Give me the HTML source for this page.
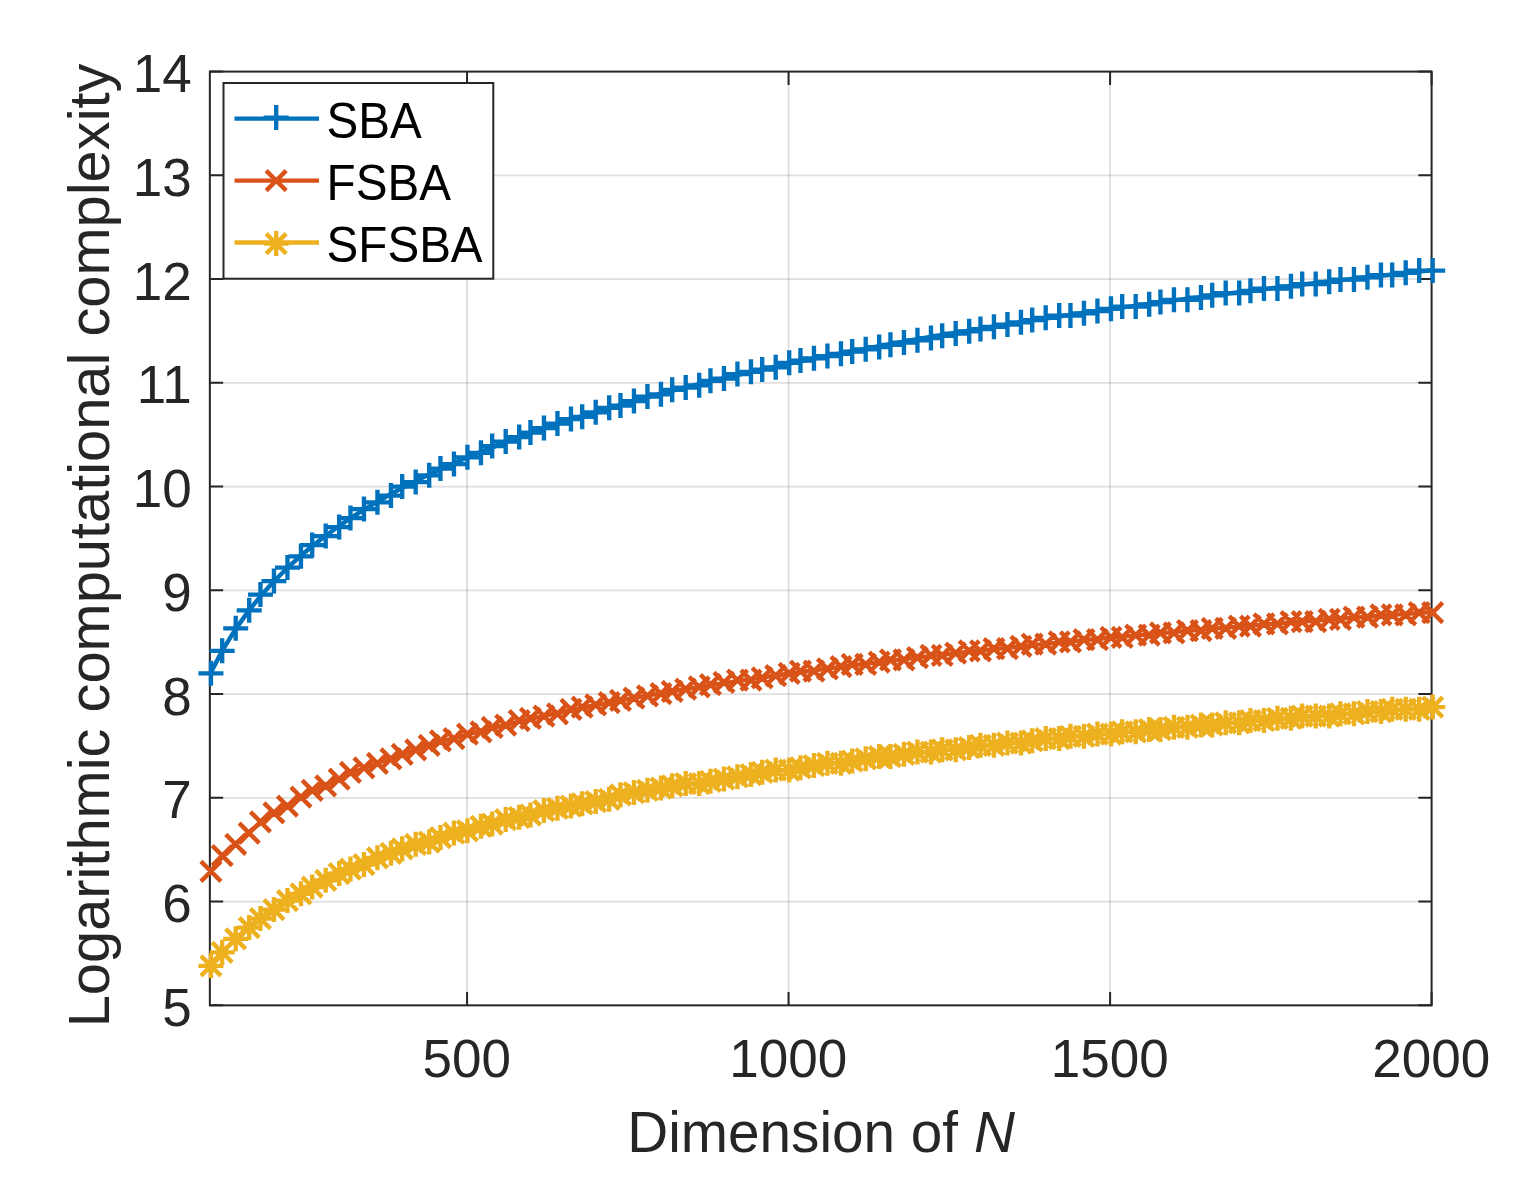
<!DOCTYPE html>
<html lang="en"><head><meta charset="utf-8"><title>Logarithmic computational complexity</title>
<style>html,body{margin:0;padding:0;background:#fff;}body{width:1518px;height:1200px;overflow:hidden;}svg{display:block;}text{font-family:"Liberation Sans",sans-serif;fill:#262626;}</style></head><body>
<svg width="1518" height="1200" viewBox="0 0 1518 1200">
<rect width="1518" height="1200" fill="#fff"/>
<g stroke="#262626" stroke-opacity="0.15" stroke-width="1.9" fill="none">
<path d="M467.06 71.6V1005.35"/>
<path d="M788.57 71.6V1005.35"/>
<path d="M1110.09 71.6V1005.35"/>
<path d="M209.85 901.6H1431.6"/>
<path d="M209.85 797.85H1431.6"/>
<path d="M209.85 694.1H1431.6"/>
<path d="M209.85 590.35H1431.6"/>
<path d="M209.85 486.6H1431.6"/>
<path d="M209.85 382.85H1431.6"/>
<path d="M209.85 279.1H1431.6"/>
<path d="M209.85 175.35H1431.6"/>
</g>
<g stroke="#262626" stroke-width="2" fill="none">
<rect x="209.85" y="71.6" width="1221.75" height="933.75"/>
<path d="M467.06 1005.35v-13.3M467.06 71.6v13.3M788.57 1005.35v-13.3M788.57 71.6v13.3M1110.09 1005.35v-13.3M1110.09 71.6v13.3M1431.6 1005.35v-13.3M1431.6 71.6v13.3M209.85 1005.35h13.3M1431.6 1005.35h-13.3M209.85 901.6h13.3M1431.6 901.6h-13.3M209.85 797.85h13.3M1431.6 797.85h-13.3M209.85 694.1h13.3M1431.6 694.1h-13.3M209.85 590.35h13.3M1431.6 590.35h-13.3M209.85 486.6h13.3M1431.6 486.6h-13.3M209.85 382.85h13.3M1431.6 382.85h-13.3M209.85 279.1h13.3M1431.6 279.1h-13.3M209.85 175.35h13.3M1431.6 175.35h-13.3M209.85 71.6h13.3M1431.6 71.6h-13.3"/>
</g>
<g font-size="53" text-anchor="middle">
<text transform="translate(466.66 1077.4) scale(1 1.02)">500</text>
<text transform="translate(788.17 1077.4) scale(1 1.02)">1000</text>
<text transform="translate(1109.69 1077.4) scale(1 1.02)">1500</text>
<text transform="translate(1431.2 1077.4) scale(1 1.02)">2000</text>
</g>
<g font-size="53" text-anchor="end">
<text transform="translate(191.7 1025.95) scale(1 1.02)">5</text>
<text transform="translate(191.7 922.2) scale(1 1.02)">6</text>
<text transform="translate(191.7 818.45) scale(1 1.02)">7</text>
<text transform="translate(191.7 714.7) scale(1 1.02)">8</text>
<text transform="translate(191.7 610.95) scale(1 1.02)">9</text>
<text transform="translate(191.7 507.2) scale(1 1.02)">10</text>
<text transform="translate(191.7 403.45) scale(1 1.02)">11</text>
<text transform="translate(191.7 299.7) scale(1 1.02)">12</text>
<text transform="translate(191.7 195.95) scale(1 1.02)">13</text>
<text transform="translate(191.7 92.2) scale(1 1.02)">14</text>
</g>
<text x="627.3" y="1152" font-size="56.7">Dimension of <tspan font-style="italic">N</tspan></text>
<text transform="translate(108.7 1027.3) rotate(-90)" font-size="57.8">Logarithmic computational complexity</text>
<g stroke="#0072BD" fill="none" stroke-linejoin="round">
<polyline stroke-width="4.4" points="209.85,674.39 222.71,649.88 235.57,629.13 248.43,611.15 261.29,595.29 274.15,581.09 287.01,568.24 299.87,556.51 312.73,545.72 325.59,535.72 338.45,526.42 351.31,517.71 364.17,509.53 377.03,501.82 389.89,494.53 402.76,487.6 415.62,481.02 428.48,474.74 441.34,468.74 454.2,463 467.06,457.49 479.92,452.19 492.78,447.1 505.64,442.19 518.5,437.45 531.36,432.87 544.22,428.45 557.08,424.16 569.94,420.01 582.8,415.97 595.66,412.06 608.52,408.26 621.38,404.56 634.24,400.96 647.11,397.45 659.97,394.03 672.83,390.69 685.69,387.44 698.55,384.26 711.41,381.16 724.27,378.12 737.13,375.15 749.99,372.25 762.85,369.41 775.71,366.62 788.57,363.89 801.43,361.22 814.29,358.6 827.15,356.02 840.01,353.5 852.87,351.02 865.73,348.59 878.59,346.2 891.46,343.85 904.32,341.54 917.18,339.27 930.04,337.04 942.9,334.84 955.76,332.68 968.62,330.55 981.48,328.46 994.34,326.39 1007.2,324.36 1020.06,322.36 1032.92,320.39 1045.78,318.45 1058.64,316.53 1071.5,314.64 1084.36,312.78 1097.22,310.94 1110.08,309.13 1122.94,307.34 1135.81,305.57 1148.67,303.83 1161.53,302.11 1174.39,300.41 1187.25,298.73 1200.11,297.07 1212.97,295.44 1225.83,293.82 1238.69,292.22 1251.55,290.64 1264.41,289.08 1277.27,287.53 1290.13,286.01 1302.99,284.5 1315.85,283 1328.71,281.53 1341.57,280.07 1354.43,278.62 1367.29,277.19 1380.16,275.78 1393.02,274.38 1405.88,272.99 1418.74,271.62 1431.6,270.26"/>
<path stroke-width="4.35" d="M198.45 673.35H223.45M210.95 660.85V685.85M209.7 650.85H234.7M222.2 638.35V663.35M223.2 628.35H248.2M235.7 615.85V640.85M236.7 610.35H261.7M249.2 597.85V622.85M247.95 594.6H272.95M260.45 582.1V607.1M261.45 581.1H286.45M273.95 568.6V593.6M274.95 567.6H299.95M287.45 555.1V580.1M288.45 556.35H313.45M300.95 543.85V568.85M299.7 545.1H324.7M312.2 532.6V557.6M313.2 536.1H338.2M325.7 523.6V548.6M326.7 527.1H351.7M339.2 514.6V539.6M337.95 518.1H362.95M350.45 505.6V530.6M351.45 509.1H376.45M363.95 496.6V521.6M364.95 502.35H389.95M377.45 489.85V514.85M378.45 495.6H403.45M390.95 483.1V508.1M389.7 486.6H414.7M402.2 474.1V499.1M403.2 482.1H428.2M415.7 469.6V494.6M416.7 475.35H441.7M429.2 462.85V487.85M427.95 468.6H452.95M440.45 456.1V481.1M441.45 464.1H466.45M453.95 451.6V476.6M454.95 457.35H479.95M467.45 444.85V469.85M468.45 452.85H493.45M480.95 440.35V465.35M479.7 446.1H504.7M492.2 433.6V458.6M493.2 441.6H518.2M505.7 429.1V454.1M506.7 437.1H531.7M519.2 424.6V449.6M517.95 432.6H542.95M530.45 420.1V445.1M531.45 428.1H556.45M543.95 415.6V440.6M544.95 423.6H569.95M557.45 411.1V436.1M558.45 419.1H583.45M570.95 406.6V431.6M569.7 416.85H594.7M582.2 404.35V429.35M583.2 412.35H608.2M595.7 399.85V424.85M596.7 407.85H621.7M609.2 395.35V420.35M607.95 405.6H632.95M620.45 393.1V418.1M621.45 401.1H646.45M633.95 388.6V413.6M634.95 396.6H659.95M647.45 384.1V409.1M648.45 394.35H673.45M660.95 381.85V406.85M659.7 389.85H684.7M672.2 377.35V402.35M673.2 387.6H698.2M685.7 375.1V400.1M686.7 385.35H711.7M699.2 372.85V397.85M697.95 380.85H722.95M710.45 368.35V393.35M711.45 378.6H736.45M723.95 366.1V391.1M724.95 374.1H749.95M737.45 361.6V386.6M738.45 371.85H763.45M750.95 359.35V384.35M749.7 369.6H774.7M762.2 357.1V382.1M763.2 367.35H788.2M775.7 354.85V379.85M776.7 362.85H801.7M789.2 350.35V375.35M787.95 360.6H812.95M800.45 348.1V373.1M801.45 358.35H826.45M813.95 345.85V370.85M814.95 356.1H839.95M827.45 343.6V368.6M828.45 353.85H853.45M840.95 341.35V366.35M839.7 351.6H864.7M852.2 339.1V364.1M853.2 349.35H878.2M865.7 336.85V361.85M866.7 347.1H891.7M879.2 334.6V359.6M877.95 344.85H902.95M890.45 332.35V357.35M891.45 342.6H916.45M903.95 330.1V355.1M904.95 340.35H929.95M917.45 327.85V352.85M918.45 338.1H943.45M930.95 325.6V350.6M929.7 335.85H954.7M942.2 323.35V348.35M943.2 333.6H968.2M955.7 321.1V346.1M956.7 331.35H981.7M969.2 318.85V343.85M967.95 329.1H992.95M980.45 316.6V341.6M981.45 326.85H1006.45M993.95 314.35V339.35M994.95 324.6H1019.95M1007.45 312.1V337.1M1008.45 322.35H1033.45M1020.95 309.85V334.85M1019.7 320.1H1044.7M1032.2 307.6V332.6M1033.2 317.85H1058.2M1045.7 305.35V330.35M1046.7 315.6H1071.7M1059.2 303.1V328.1M1057.95 315.6H1082.95M1070.45 303.1V328.1M1071.45 313.35H1096.45M1083.95 300.85V325.85M1084.95 311.1H1109.95M1097.45 298.6V323.6M1098.45 308.85H1123.45M1110.95 296.35V321.35M1109.7 306.6H1134.7M1122.2 294.1V319.1M1123.2 306.6H1148.2M1135.7 294.1V319.1M1136.7 304.35H1161.7M1149.2 291.85V316.85M1147.95 302.1H1172.95M1160.45 289.6V314.6M1161.45 299.85H1186.45M1173.95 287.35V312.35M1174.95 299.85H1199.95M1187.45 287.35V312.35M1188.45 297.6H1213.45M1200.95 285.1V310.1M1199.7 295.35H1224.7M1212.2 282.85V307.85M1213.2 293.1H1238.2M1225.7 280.6V305.6M1226.7 293.1H1251.7M1239.2 280.6V305.6M1237.95 290.85H1262.95M1250.45 278.35V303.35M1251.45 288.6H1276.45M1263.95 276.1V301.1M1264.95 288.6H1289.95M1277.45 276.1V301.1M1278.45 286.35H1303.45M1290.95 273.85V298.85M1289.7 284.1H1314.7M1302.2 271.6V296.6M1303.2 284.1H1328.2M1315.7 271.6V296.6M1316.7 281.85H1341.7M1329.2 269.35V294.35M1327.95 279.6H1352.95M1340.45 267.1V292.1M1341.45 279.6H1366.45M1353.95 267.1V292.1M1354.95 277.35H1379.95M1367.45 264.85V289.85M1368.45 275.1H1393.45M1380.95 262.6V287.6M1379.7 275.1H1404.7M1392.2 262.6V287.6M1393.2 272.85H1418.2M1405.7 260.35V285.35M1406.7 270.6H1431.7M1419.2 258.1V283.1M1420.2 270.6H1445.2M1432.7 258.1V283.1"/>
</g>
<g stroke="#D95319" fill="none" stroke-linejoin="round">
<polyline stroke-width="4.4" points="209.85,872.11 222.71,856.66 235.57,843.65 248.43,832.37 261.29,822.41 274.15,813.48 287.01,805.38 299.87,797.97 312.73,791.13 325.59,784.79 338.45,778.87 351.31,773.32 364.17,768.1 377.03,763.16 389.89,758.49 402.76,754.05 415.62,749.82 428.48,745.78 441.34,741.91 454.2,738.21 467.06,734.65 479.92,731.23 492.78,727.94 505.64,724.76 518.5,721.69 531.36,718.72 544.22,715.85 557.08,713.06 569.94,710.36 582.8,707.74 595.66,705.2 608.52,702.72 621.38,700.31 634.24,697.96 647.11,695.67 659.97,693.44 672.83,691.27 685.69,689.14 698.55,687.07 711.41,685.04 724.27,683.05 737.13,681.11 749.99,679.21 762.85,677.35 775.71,675.53 788.57,673.74 801.43,671.99 814.29,670.27 827.15,668.58 840.01,666.93 852.87,665.3 865.73,663.7 878.59,662.14 891.46,660.59 904.32,659.08 917.18,657.59 930.04,656.12 942.9,654.68 955.76,653.26 968.62,651.86 981.48,650.48 994.34,649.12 1007.2,647.79 1020.06,646.47 1032.92,645.17 1045.78,643.9 1058.64,642.63 1071.5,641.39 1084.36,640.16 1097.22,638.95 1110.08,637.76 1122.94,636.58 1135.81,635.42 1148.67,634.27 1161.53,633.14 1174.39,632.02 1187.25,630.91 1200.11,629.82 1212.97,628.74 1225.83,627.67 1238.69,626.62 1251.55,625.57 1264.41,624.54 1277.27,623.52 1290.13,622.52 1302.99,621.52 1315.85,620.54 1328.71,619.56 1341.57,618.6 1354.43,617.64 1367.29,616.7 1380.16,615.77 1393.02,614.84 1405.88,613.93 1418.74,613.02 1431.6,612.12"/>
<path stroke-width="4.35" d="M200.95 861.35L220.95 881.35M200.95 881.35L220.95 861.35M212.2 845.6L232.2 865.6M212.2 865.6L232.2 845.6M225.7 834.35L245.7 854.35M225.7 854.35L245.7 834.35M239.2 823.1L259.2 843.1M239.2 843.1L259.2 823.1M250.45 811.85L270.45 831.85M250.45 831.85L270.45 811.85M263.95 802.85L283.95 822.85M263.95 822.85L283.95 802.85M277.45 796.1L297.45 816.1M277.45 816.1L297.45 796.1M290.95 787.1L310.95 807.1M290.95 807.1L310.95 787.1M302.2 780.35L322.2 800.35M302.2 800.35L322.2 780.35M315.7 775.85L335.7 795.85M315.7 795.85L335.7 775.85M329.2 769.1L349.2 789.1M329.2 789.1L349.2 769.1M340.45 762.35L360.45 782.35M340.45 782.35L360.45 762.35M353.95 757.85L373.95 777.85M353.95 777.85L373.95 757.85M367.45 753.35L387.45 773.35M367.45 773.35L387.45 753.35M380.95 748.85L400.95 768.85M380.95 768.85L400.95 748.85M392.2 744.35L412.2 764.35M392.2 764.35L412.2 744.35M405.7 739.85L425.7 759.85M405.7 759.85L425.7 739.85M419.2 735.35L439.2 755.35M419.2 755.35L439.2 735.35M430.45 730.85L450.45 750.85M430.45 750.85L450.45 730.85M443.95 728.6L463.95 748.6M443.95 748.6L463.95 728.6M457.45 724.1L477.45 744.1M457.45 744.1L477.45 724.1M470.95 721.85L490.95 741.85M470.95 741.85L490.95 721.85M482.2 717.35L502.2 737.35M482.2 737.35L502.2 717.35M495.7 715.1L515.7 735.1M495.7 735.1L515.7 715.1M509.2 710.6L529.2 730.6M509.2 730.6L529.2 710.6M520.45 708.35L540.45 728.35M520.45 728.35L540.45 708.35M533.95 706.1L553.95 726.1M533.95 726.1L553.95 706.1M547.45 703.85L567.45 723.85M547.45 723.85L567.45 703.85M560.95 699.35L580.95 719.35M560.95 719.35L580.95 699.35M572.2 697.1L592.2 717.1M572.2 717.1L592.2 697.1M585.7 694.85L605.7 714.85M585.7 714.85L605.7 694.85M599.2 692.6L619.2 712.6M599.2 712.6L619.2 692.6M610.45 690.35L630.45 710.35M610.45 710.35L630.45 690.35M623.95 688.1L643.95 708.1M623.95 708.1L643.95 688.1M637.45 685.85L657.45 705.85M637.45 705.85L657.45 685.85M650.95 683.6L670.95 703.6M650.95 703.6L670.95 683.6M662.2 681.35L682.2 701.35M662.2 701.35L682.2 681.35M675.7 679.1L695.7 699.1M675.7 699.1L695.7 679.1M689.2 676.85L709.2 696.85M689.2 696.85L709.2 676.85M700.45 674.6L720.45 694.6M700.45 694.6L720.45 674.6M713.95 672.35L733.95 692.35M713.95 692.35L733.95 672.35M727.45 670.1L747.45 690.1M727.45 690.1L747.45 670.1M740.95 670.1L760.95 690.1M740.95 690.1L760.95 670.1M752.2 667.85L772.2 687.85M752.2 687.85L772.2 667.85M765.7 665.6L785.7 685.6M765.7 685.6L785.7 665.6M779.2 663.35L799.2 683.35M779.2 683.35L799.2 663.35M790.45 661.1L810.45 681.1M790.45 681.1L810.45 661.1M803.95 661.1L823.95 681.1M803.95 681.1L823.95 661.1M817.45 658.85L837.45 678.85M817.45 678.85L837.45 658.85M830.95 656.6L850.95 676.6M830.95 676.6L850.95 656.6M842.2 654.35L862.2 674.35M842.2 674.35L862.2 654.35M855.7 654.35L875.7 674.35M855.7 674.35L875.7 654.35M869.2 652.1L889.2 672.1M869.2 672.1L889.2 652.1M880.45 649.85L900.45 669.85M880.45 669.85L900.45 649.85M893.95 649.85L913.95 669.85M893.95 669.85L913.95 649.85M907.45 647.6L927.45 667.6M907.45 667.6L927.45 647.6M920.95 645.35L940.95 665.35M920.95 665.35L940.95 645.35M932.2 645.35L952.2 665.35M932.2 665.35L952.2 645.35M945.7 643.1L965.7 663.1M945.7 663.1L965.7 643.1M959.2 640.85L979.2 660.85M959.2 660.85L979.2 640.85M970.45 640.85L990.45 660.85M970.45 660.85L990.45 640.85M983.95 638.6L1003.95 658.6M983.95 658.6L1003.95 638.6M997.45 638.6L1017.45 658.6M997.45 658.6L1017.45 638.6M1010.95 636.35L1030.95 656.35M1010.95 656.35L1030.95 636.35M1022.2 634.1L1042.2 654.1M1022.2 654.1L1042.2 634.1M1035.7 634.1L1055.7 654.1M1035.7 654.1L1055.7 634.1M1049.2 631.85L1069.2 651.85M1049.2 651.85L1069.2 631.85M1060.45 631.85L1080.45 651.85M1060.45 651.85L1080.45 631.85M1073.95 629.6L1093.95 649.6M1073.95 649.6L1093.95 629.6M1087.45 629.6L1107.45 649.6M1087.45 649.6L1107.45 629.6M1100.95 627.35L1120.95 647.35M1100.95 647.35L1120.95 627.35M1112.2 627.35L1132.2 647.35M1112.2 647.35L1132.2 627.35M1125.7 625.1L1145.7 645.1M1125.7 645.1L1145.7 625.1M1139.2 625.1L1159.2 645.1M1139.2 645.1L1159.2 625.1M1150.45 622.85L1170.45 642.85M1150.45 642.85L1170.45 622.85M1163.95 622.85L1183.95 642.85M1163.95 642.85L1183.95 622.85M1177.45 620.6L1197.45 640.6M1177.45 640.6L1197.45 620.6M1190.95 620.6L1210.95 640.6M1190.95 640.6L1210.95 620.6M1202.2 618.35L1222.2 638.35M1202.2 638.35L1222.2 618.35M1215.7 618.35L1235.7 638.35M1215.7 638.35L1235.7 618.35M1229.2 616.1L1249.2 636.1M1229.2 636.1L1249.2 616.1M1240.45 616.1L1260.45 636.1M1240.45 636.1L1260.45 616.1M1253.95 613.85L1273.95 633.85M1253.95 633.85L1273.95 613.85M1267.45 613.85L1287.45 633.85M1267.45 633.85L1287.45 613.85M1280.95 611.6L1300.95 631.6M1280.95 631.6L1300.95 611.6M1292.2 611.6L1312.2 631.6M1292.2 631.6L1312.2 611.6M1305.7 611.6L1325.7 631.6M1305.7 631.6L1325.7 611.6M1319.2 609.35L1339.2 629.35M1319.2 629.35L1339.2 609.35M1330.45 609.35L1350.45 629.35M1330.45 629.35L1350.45 609.35M1343.95 607.1L1363.95 627.1M1343.95 627.1L1363.95 607.1M1357.45 607.1L1377.45 627.1M1357.45 627.1L1377.45 607.1M1370.95 604.85L1390.95 624.85M1370.95 624.85L1390.95 604.85M1382.2 604.85L1402.2 624.85M1382.2 624.85L1402.2 604.85M1395.7 604.85L1415.7 624.85M1395.7 624.85L1415.7 604.85M1409.2 602.6L1429.2 622.6M1409.2 622.6L1429.2 602.6M1422.7 602.6L1442.7 622.6M1422.7 622.6L1442.7 602.6"/>
</g>
<g stroke="#EDB120" fill="none" stroke-linejoin="round">
<polyline stroke-width="4.4" points="209.85,966.89 222.71,951.81 235.57,939 248.43,927.85 261.29,917.96 274.15,909.08 287.01,901.01 299.87,893.61 312.73,886.78 325.59,880.45 338.45,874.53 351.31,868.98 364.17,863.76 377.03,858.82 389.89,854.14 402.76,849.7 415.62,845.47 428.48,841.42 441.34,837.55 454.2,833.84 467.06,830.28 479.92,826.86 492.78,823.56 505.64,820.38 518.5,817.3 531.36,814.33 544.22,811.45 557.08,808.67 569.94,805.96 582.8,803.34 595.66,800.79 608.52,798.31 621.38,795.89 634.24,793.54 647.11,791.25 659.97,789.02 672.83,786.84 685.69,784.71 698.55,782.63 711.41,780.6 724.27,778.61 737.13,776.67 749.99,774.77 762.85,772.9 775.71,771.08 788.57,769.29 801.43,767.54 814.29,765.81 827.15,764.13 840.01,762.47 852.87,760.84 865.73,759.24 878.59,757.67 891.46,756.13 904.32,754.61 917.18,753.12 930.04,751.65 942.9,750.2 955.76,748.78 968.62,747.38 981.48,746 994.34,744.65 1007.2,743.31 1020.06,741.99 1032.92,740.69 1045.78,739.41 1058.64,738.15 1071.5,736.91 1084.36,735.68 1097.22,734.47 1110.08,733.27 1122.94,732.09 1135.81,730.93 1148.67,729.78 1161.53,728.64 1174.39,727.52 1187.25,726.41 1200.11,725.32 1212.97,724.24 1225.83,723.17 1238.69,722.12 1251.55,721.07 1264.41,720.04 1277.27,719.02 1290.13,718.01 1302.99,717.02 1315.85,716.03 1328.71,715.06 1341.57,714.09 1354.43,713.14 1367.29,712.19 1380.16,711.26 1393.02,710.33 1405.88,709.42 1418.74,708.51 1431.6,707.61"/>
<path stroke-width="4.35" d="M198.45 965.85H223.45M210.95 953.35V978.35M200.95 955.85L220.95 975.85M200.95 975.85L220.95 955.85M209.7 952.35H234.7M222.2 939.85V964.85M212.2 942.35L232.2 962.35M212.2 962.35L232.2 942.35M223.2 938.85H248.2M235.7 926.35V951.35M225.7 928.85L245.7 948.85M225.7 948.85L245.7 928.85M236.7 927.6H261.7M249.2 915.1V940.1M239.2 917.6L259.2 937.6M239.2 937.6L259.2 917.6M247.95 918.6H272.95M260.45 906.1V931.1M250.45 908.6L270.45 928.6M250.45 928.6L270.45 908.6M261.45 909.6H286.45M273.95 897.1V922.1M263.95 899.6L283.95 919.6M263.95 919.6L283.95 899.6M274.95 900.6H299.95M287.45 888.1V913.1M277.45 890.6L297.45 910.6M277.45 910.6L297.45 890.6M288.45 893.85H313.45M300.95 881.35V906.35M290.95 883.85L310.95 903.85M290.95 903.85L310.95 883.85M299.7 887.1H324.7M312.2 874.6V899.6M302.2 877.1L322.2 897.1M302.2 897.1L322.2 877.1M313.2 880.35H338.2M325.7 867.85V892.85M315.7 870.35L335.7 890.35M315.7 890.35L335.7 870.35M326.7 873.6H351.7M339.2 861.1V886.1M329.2 863.6L349.2 883.6M329.2 883.6L349.2 863.6M337.95 869.1H362.95M350.45 856.6V881.6M340.45 859.1L360.45 879.1M340.45 879.1L360.45 859.1M351.45 864.6H376.45M363.95 852.1V877.1M353.95 854.6L373.95 874.6M353.95 874.6L373.95 854.6M364.95 857.85H389.95M377.45 845.35V870.35M367.45 847.85L387.45 867.85M367.45 867.85L387.45 847.85M378.45 853.35H403.45M390.95 840.85V865.85M380.95 843.35L400.95 863.35M380.95 863.35L400.95 843.35M389.7 848.85H414.7M402.2 836.35V861.35M392.2 838.85L412.2 858.85M392.2 858.85L412.2 838.85M403.2 844.35H428.2M415.7 831.85V856.85M405.7 834.35L425.7 854.35M405.7 854.35L425.7 834.35M416.7 842.1H441.7M429.2 829.6V854.6M419.2 832.1L439.2 852.1M419.2 852.1L439.2 832.1M427.95 837.6H452.95M440.45 825.1V850.1M430.45 827.6L450.45 847.6M430.45 847.6L450.45 827.6M441.45 833.1H466.45M453.95 820.6V845.6M443.95 823.1L463.95 843.1M443.95 843.1L463.95 823.1M454.95 830.85H479.95M467.45 818.35V843.35M457.45 820.85L477.45 840.85M457.45 840.85L477.45 820.85M468.45 826.35H493.45M480.95 813.85V838.85M470.95 816.35L490.95 836.35M470.95 836.35L490.95 816.35M479.7 824.1H504.7M492.2 811.6V836.6M482.2 814.1L502.2 834.1M482.2 834.1L502.2 814.1M493.2 819.6H518.2M505.7 807.1V832.1M495.7 809.6L515.7 829.6M495.7 829.6L515.7 809.6M506.7 817.35H531.7M519.2 804.85V829.85M509.2 807.35L529.2 827.35M509.2 827.35L529.2 807.35M517.95 815.1H542.95M530.45 802.6V827.6M520.45 805.1L540.45 825.1M520.45 825.1L540.45 805.1M531.45 810.6H556.45M543.95 798.1V823.1M533.95 800.6L553.95 820.6M533.95 820.6L553.95 800.6M544.95 808.35H569.95M557.45 795.85V820.85M547.45 798.35L567.45 818.35M547.45 818.35L567.45 798.35M558.45 806.1H583.45M570.95 793.6V818.6M560.95 796.1L580.95 816.1M560.95 816.1L580.95 796.1M569.7 803.85H594.7M582.2 791.35V816.35M572.2 793.85L592.2 813.85M572.2 813.85L592.2 793.85M583.2 801.6H608.2M595.7 789.1V814.1M585.7 791.6L605.7 811.6M585.7 811.6L605.7 791.6M596.7 799.35H621.7M609.2 786.85V811.85M599.2 789.35L619.2 809.35M599.2 809.35L619.2 789.35M607.95 794.85H632.95M620.45 782.35V807.35M610.45 784.85L630.45 804.85M610.45 804.85L630.45 784.85M621.45 792.6H646.45M633.95 780.1V805.1M623.95 782.6L643.95 802.6M623.95 802.6L643.95 782.6M634.95 790.35H659.95M647.45 777.85V802.85M637.45 780.35L657.45 800.35M637.45 800.35L657.45 780.35M648.45 788.1H673.45M660.95 775.6V800.6M650.95 778.1L670.95 798.1M650.95 798.1L670.95 778.1M659.7 785.85H684.7M672.2 773.35V798.35M662.2 775.85L682.2 795.85M662.2 795.85L682.2 775.85M673.2 783.6H698.2M685.7 771.1V796.1M675.7 773.6L695.7 793.6M675.7 793.6L695.7 773.6M686.7 783.6H711.7M699.2 771.1V796.1M689.2 773.6L709.2 793.6M689.2 793.6L709.2 773.6M697.95 781.35H722.95M710.45 768.85V793.85M700.45 771.35L720.45 791.35M700.45 791.35L720.45 771.35M711.45 779.1H736.45M723.95 766.6V791.6M713.95 769.1L733.95 789.1M713.95 789.1L733.95 769.1M724.95 776.85H749.95M737.45 764.35V789.35M727.45 766.85L747.45 786.85M727.45 786.85L747.45 766.85M738.45 774.6H763.45M750.95 762.1V787.1M740.95 764.6L760.95 784.6M740.95 784.6L760.95 764.6M749.7 772.35H774.7M762.2 759.85V784.85M752.2 762.35L772.2 782.35M752.2 782.35L772.2 762.35M763.2 770.1H788.2M775.7 757.6V782.6M765.7 760.1L785.7 780.1M765.7 780.1L785.7 760.1M776.7 770.1H801.7M789.2 757.6V782.6M779.2 760.1L799.2 780.1M779.2 780.1L799.2 760.1M787.95 767.85H812.95M800.45 755.35V780.35M790.45 757.85L810.45 777.85M790.45 777.85L810.45 757.85M801.45 765.6H826.45M813.95 753.1V778.1M803.95 755.6L823.95 775.6M803.95 775.6L823.95 755.6M814.95 763.35H839.95M827.45 750.85V775.85M817.45 753.35L837.45 773.35M817.45 773.35L837.45 753.35M828.45 763.35H853.45M840.95 750.85V775.85M830.95 753.35L850.95 773.35M830.95 773.35L850.95 753.35M839.7 761.1H864.7M852.2 748.6V773.6M842.2 751.1L862.2 771.1M842.2 771.1L862.2 751.1M853.2 758.85H878.2M865.7 746.35V771.35M855.7 748.85L875.7 768.85M855.7 768.85L875.7 748.85M866.7 756.6H891.7M879.2 744.1V769.1M869.2 746.6L889.2 766.6M869.2 766.6L889.2 746.6M877.95 756.6H902.95M890.45 744.1V769.1M880.45 746.6L900.45 766.6M880.45 766.6L900.45 746.6M891.45 754.35H916.45M903.95 741.85V766.85M893.95 744.35L913.95 764.35M893.95 764.35L913.95 744.35M904.95 752.1H929.95M917.45 739.6V764.6M907.45 742.1L927.45 762.1M907.45 762.1L927.45 742.1M918.45 752.1H943.45M930.95 739.6V764.6M920.95 742.1L940.95 762.1M920.95 762.1L940.95 742.1M929.7 749.85H954.7M942.2 737.35V762.35M932.2 739.85L952.2 759.85M932.2 759.85L952.2 739.85M943.2 749.85H968.2M955.7 737.35V762.35M945.7 739.85L965.7 759.85M945.7 759.85L965.7 739.85M956.7 747.6H981.7M969.2 735.1V760.1M959.2 737.6L979.2 757.6M959.2 757.6L979.2 737.6M967.95 745.35H992.95M980.45 732.85V757.85M970.45 735.35L990.45 755.35M970.45 755.35L990.45 735.35M981.45 745.35H1006.45M993.95 732.85V757.85M983.95 735.35L1003.95 755.35M983.95 755.35L1003.95 735.35M994.95 743.1H1019.95M1007.45 730.6V755.6M997.45 733.1L1017.45 753.1M997.45 753.1L1017.45 733.1M1008.45 743.1H1033.45M1020.95 730.6V755.6M1010.95 733.1L1030.95 753.1M1010.95 753.1L1030.95 733.1M1019.7 740.85H1044.7M1032.2 728.35V753.35M1022.2 730.85L1042.2 750.85M1022.2 750.85L1042.2 730.85M1033.2 738.6H1058.2M1045.7 726.1V751.1M1035.7 728.6L1055.7 748.6M1035.7 748.6L1055.7 728.6M1046.7 738.6H1071.7M1059.2 726.1V751.1M1049.2 728.6L1069.2 748.6M1049.2 748.6L1069.2 728.6M1057.95 736.35H1082.95M1070.45 723.85V748.85M1060.45 726.35L1080.45 746.35M1060.45 746.35L1080.45 726.35M1071.45 736.35H1096.45M1083.95 723.85V748.85M1073.95 726.35L1093.95 746.35M1073.95 746.35L1093.95 726.35M1084.95 734.1H1109.95M1097.45 721.6V746.6M1087.45 724.1L1107.45 744.1M1087.45 744.1L1107.45 724.1M1098.45 734.1H1123.45M1110.95 721.6V746.6M1100.95 724.1L1120.95 744.1M1100.95 744.1L1120.95 724.1M1109.7 731.85H1134.7M1122.2 719.35V744.35M1112.2 721.85L1132.2 741.85M1112.2 741.85L1132.2 721.85M1123.2 731.85H1148.2M1135.7 719.35V744.35M1125.7 721.85L1145.7 741.85M1125.7 741.85L1145.7 721.85M1136.7 729.6H1161.7M1149.2 717.1V742.1M1139.2 719.6L1159.2 739.6M1139.2 739.6L1159.2 719.6M1147.95 729.6H1172.95M1160.45 717.1V742.1M1150.45 719.6L1170.45 739.6M1150.45 739.6L1170.45 719.6M1161.45 727.35H1186.45M1173.95 714.85V739.85M1163.95 717.35L1183.95 737.35M1163.95 737.35L1183.95 717.35M1174.95 727.35H1199.95M1187.45 714.85V739.85M1177.45 717.35L1197.45 737.35M1177.45 737.35L1197.45 717.35M1188.45 725.1H1213.45M1200.95 712.6V737.6M1190.95 715.1L1210.95 735.1M1190.95 735.1L1210.95 715.1M1199.7 725.1H1224.7M1212.2 712.6V737.6M1202.2 715.1L1222.2 735.1M1202.2 735.1L1222.2 715.1M1213.2 722.85H1238.2M1225.7 710.35V735.35M1215.7 712.85L1235.7 732.85M1215.7 732.85L1235.7 712.85M1226.7 722.85H1251.7M1239.2 710.35V735.35M1229.2 712.85L1249.2 732.85M1229.2 732.85L1249.2 712.85M1237.95 720.6H1262.95M1250.45 708.1V733.1M1240.45 710.6L1260.45 730.6M1240.45 730.6L1260.45 710.6M1251.45 720.6H1276.45M1263.95 708.1V733.1M1253.95 710.6L1273.95 730.6M1253.95 730.6L1273.95 710.6M1264.95 718.35H1289.95M1277.45 705.85V730.85M1267.45 708.35L1287.45 728.35M1267.45 728.35L1287.45 708.35M1278.45 718.35H1303.45M1290.95 705.85V730.85M1280.95 708.35L1300.95 728.35M1280.95 728.35L1300.95 708.35M1289.7 716.1H1314.7M1302.2 703.6V728.6M1292.2 706.1L1312.2 726.1M1292.2 726.1L1312.2 706.1M1303.2 716.1H1328.2M1315.7 703.6V728.6M1305.7 706.1L1325.7 726.1M1305.7 726.1L1325.7 706.1M1316.7 716.1H1341.7M1329.2 703.6V728.6M1319.2 706.1L1339.2 726.1M1319.2 726.1L1339.2 706.1M1327.95 713.85H1352.95M1340.45 701.35V726.35M1330.45 703.85L1350.45 723.85M1330.45 723.85L1350.45 703.85M1341.45 713.85H1366.45M1353.95 701.35V726.35M1343.95 703.85L1363.95 723.85M1343.95 723.85L1363.95 703.85M1354.95 711.6H1379.95M1367.45 699.1V724.1M1357.45 701.6L1377.45 721.6M1357.45 721.6L1377.45 701.6M1368.45 711.6H1393.45M1380.95 699.1V724.1M1370.95 701.6L1390.95 721.6M1370.95 721.6L1390.95 701.6M1379.7 709.35H1404.7M1392.2 696.85V721.85M1382.2 699.35L1402.2 719.35M1382.2 719.35L1402.2 699.35M1393.2 709.35H1418.2M1405.7 696.85V721.85M1395.7 699.35L1415.7 719.35M1395.7 719.35L1415.7 699.35M1406.7 709.35H1431.7M1419.2 696.85V721.85M1409.2 699.35L1429.2 719.35M1409.2 719.35L1429.2 699.35M1420.2 707.1H1445.2M1432.7 694.6V719.6M1422.7 697.1L1442.7 717.1M1422.7 717.1L1442.7 697.1"/>
</g>
<rect x="223.5" y="83" width="269.8" height="195.7" fill="#fff" stroke="#262626" stroke-width="2"/>
<g stroke="#0072BD" fill="none">
<path stroke-width="4.4" d="M234.5 118.6H319"/>
<path stroke-width="4.35" d="M263.7 117.6H288.7M276.2 105.1V130.1"/>
</g>
<text transform="translate(326.6 138.2) scale(1 1.03)" font-size="47.6" style="fill:#000">SBA</text>
<g stroke="#D95319" fill="none">
<path stroke-width="4.4" d="M234.5 180.6H319"/>
<path stroke-width="4.35" d="M266.2 170.6L286.2 190.6M266.2 190.6L286.2 170.6"/>
</g>
<text transform="translate(326.6 200) scale(1 1.03)" font-size="47.6" style="fill:#000">FSBA</text>
<g stroke="#EDB120" fill="none">
<path stroke-width="4.4" d="M234.5 242.55H319"/>
<path stroke-width="4.35" d="M263.7 243.6H288.7M276.2 231.1V256.1M266.2 233.6L286.2 253.6M266.2 253.6L286.2 233.6"/>
</g>
<text transform="translate(326.6 261.7) scale(1 1.03)" font-size="47.6" style="fill:#000">SFSBA</text>
</svg></body></html>
